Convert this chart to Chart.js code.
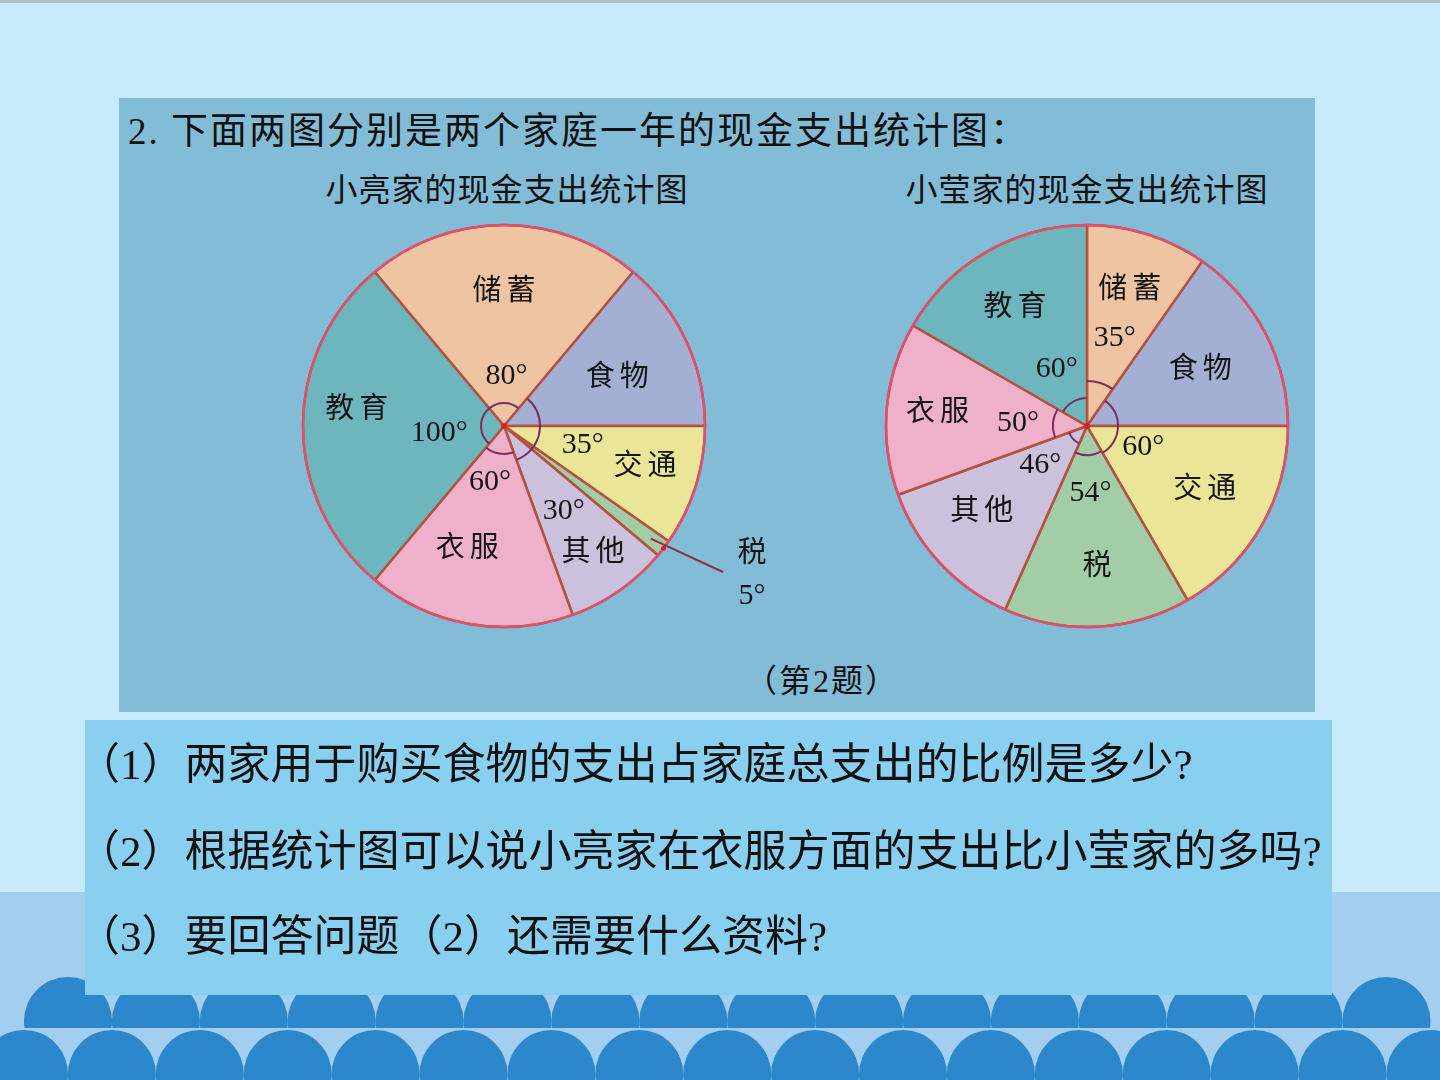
<!DOCTYPE html>
<html>
<head>
<meta charset="utf-8">
<script src="https://cdn.jsdelivr.net/npm/chart.js@4.4.0/dist/chart.umd.min.js"></script>
<style>
html, body { margin: 0; padding: 0; }
body {
    width: 1440px; height: 1080px; position: relative; overflow: hidden;
    background: #C6E9FB;
    font-family: "Liberation Serif", "Noto Sans CJK SC", serif;
    color: #111;
}
.abs { position: absolute; white-space: nowrap; }
#topline { left: 0; top: 0; width: 1440px; height: 3px; background: #B3BFC8; }
#band { left: 0; top: 892px; width: 1440px; height: 188px; background: #A4CEEF; }
#deco { left: 0; top: 0; }
#panel { left: 119px; top: 98px; width: 1196px; height: 614px; background: #83BCD6; }
#qbox { left: 85px; top: 720px; width: 1247px; height: 275px; background: #89CFF0; }
#title { left: 128px; top: 107px; font-size: 37px; line-height: 50px; letter-spacing: 2px; }
.sub { top: 168px; width: 420px; text-align: center; font-size: 32px; line-height: 44px; letter-spacing: 1px; }
#note { left: 722px; top: 661px; width: 200px; text-align: center; font-size: 32px; line-height: 40px; letter-spacing: 2px; }
.q { left: 77px; font-size: 43px; line-height: 56px; }
#liangBox { left: 204px; top: 196px; width: 600px; height: 460px; }
#yingBox { left: 857px; top: 196px; width: 460px; height: 460px; }
</style>
</head>
<body>
<div class="abs" id="topline"></div>
<div class="abs" id="band"></div>
<canvas class="abs" id="deco" width="1440" height="1080"></canvas>
<div class="abs" id="panel"></div>
<div class="abs" id="qbox"></div>

<div class="abs" id="title">2. 下面两图分别是两个家庭一年的现金支出统计图：</div>
<div class="abs sub" style="left:297px">小亮家的现金支出统计图</div>
<div class="abs sub" style="left:877px">小莹家的现金支出统计图</div>
<div class="abs" id="note">（第2题）</div>

<div class="abs q" style="top:737px">（1）两家用于购买食物的支出占家庭总支出的比例是多少?</div>
<div class="abs q" style="top:824px">（2）根据统计图可以说小亮家在衣服方面的支出比小莹家的多吗?</div>
<div class="abs q" style="top:909px">（3）要回答问题（2）还需要什么资料?</div>

<div class="abs" id="liangBox"><canvas id="liangChart"></canvas></div>
<div class="abs" id="yingBox"><canvas id="yingChart"></canvas></div>

<script>
// angles in degrees
const categories = ['储蓄', '食物', '交通', '税', '其他', '衣服', '教育'];
const liangValues = [80, 50, 35, 5, 30, 60, 100];
const yingValues = [35, 55, 60, 54, 46, 50, 60];
const sliceColors = ['#EEC4A3', '#A4AFD4', '#EBE697', '#A3CDA6', '#CBC1DD', '#EEB1C9', '#6DB6BE'];

// label placement: [distance, angle offset from slice middle (deg)], null = no label
const liangLayout = {
    name: [[134, 0], [123, 2], [147, -1], null, [155, 0], [129, 6.6], [148, 6]],
    value: [[50, 3], null, [81, -4], null, [104, 0], [58, 4], [65, -6]],
    mark: [23, 36, 36, 36, 36, 28, 23],
    ext: { index: 3, from: 185, to: [219, 146], name: [248, 128], value: [248, 170] }
};
const yingLayout = {
    name: [[142, 0], [126, 1.5], [134, -1.5], [142, -1], [136, 3.7], [150, 0], [138, -1.4]],
    value: [[92, 0], null, [60, -9.5], [67, 0], [61, 3], [69, -2.5], [64, 1.8]],
    mark: [45, 31, 31, 29, 19, 34, 28],
    ext: null
};

const CJK = '"Liberation Serif", "Noto Sans CJK SC", serif';

function spacedText(ctx, text, x, y, gap) {
    const chars = Array.from(text);
    const widths = chars.map(c => ctx.measureText(c).width);
    const total = widths.reduce((a, b) => a + b, 0) + gap * (chars.length - 1);
    let px = x - total / 2;
    ctx.textAlign = 'left';
    chars.forEach((c, k) => {
        ctx.fillText(c, px, y);
        px += widths[k] + gap;
    });
}

const pieLabels = {
    id: 'pieLabels',
    afterDatasetsDraw(chart, args, opts) {
        const ctx = chart.ctx;
        const meta = chart.getDatasetMeta(0);
        const vals = chart.data.datasets[0].data;
        const lay = opts.layout;
        const cx = meta.data[0].x, cy = meta.data[0].y, R = meta.data[0].outerRadius;
        const rad = Math.PI / 180;
        ctx.save();

        // rim
        ctx.beginPath();
        ctx.arc(cx, cy, R, 0, Math.PI * 2);
        ctx.strokeStyle = '#E0506C';
        ctx.lineWidth = 2.5;
        ctx.stroke();

        // angle marks
        ctx.strokeStyle = '#7A2F5E';
        ctx.lineWidth = 2;
        meta.data.forEach((arc, i) => {
            if (!lay.mark[i]) return;
            ctx.beginPath();
            ctx.arc(cx, cy, lay.mark[i], arc.startAngle, arc.endAngle);
            ctx.stroke();
        });

        ctx.fillStyle = '#151515';
        ctx.textBaseline = 'middle';
        meta.data.forEach((arc, i) => {
            const mid = (arc.startAngle + arc.endAngle) / 2;
            const n = lay.name[i];
            if (n) {
                const a = mid + n[1] * rad;
                ctx.font = '29px ' + CJK;
                spacedText(ctx, categories[i], cx + n[0] * Math.cos(a), cy + n[0] * Math.sin(a), 5);
            }
            const v = lay.value[i];
            if (v) {
                const a = mid + v[1] * rad;
                ctx.font = '30px ' + CJK;
                ctx.textAlign = 'center';
                ctx.fillText(vals[i] + '°', cx + v[0] * Math.cos(a), cy + v[0] * Math.sin(a));
            }
        });

        // outside label with leader line
        const ext = lay.ext;
        if (ext) {
            const arc = meta.data[ext.index];
            const mid = (arc.startAngle + arc.endAngle) / 2;
            ctx.beginPath();
            ctx.moveTo(cx + ext.from * Math.cos(mid), cy + ext.from * Math.sin(mid));
            ctx.lineTo(cx + ext.to[0], cy + ext.to[1]);
            ctx.strokeStyle = '#8A3048';
            ctx.lineWidth = 2;
            ctx.stroke();
            ctx.beginPath();
            ctx.arc(cx + R * Math.cos(mid), cy + R * Math.sin(mid), 2.5, 0, Math.PI * 2);
            ctx.fillStyle = '#E0202A';
            ctx.fill();
            ctx.fillStyle = '#151515';
            ctx.font = '29px ' + CJK;
            ctx.textAlign = 'center';
            ctx.fillText(categories[ext.index], cx + ext.name[0], cy + ext.name[1]);
            ctx.font = '30px ' + CJK;
            ctx.fillText(vals[ext.index] + '°', cx + ext.value[0], cy + ext.value[1]);
        }

        // centre dot
        ctx.beginPath();
        ctx.arc(cx, cy, 3, 0, Math.PI * 2);
        ctx.fillStyle = '#E02020';
        ctx.fill();
        ctx.restore();
    }
};

function makePie(id, values, rotation, layout) {
    return new Chart(document.getElementById(id), {
        type: 'pie',
        data: {
            labels: categories,
            datasets: [{
                data: values,
                backgroundColor: sliceColors,
                borderColor: '#B4513F',
                borderWidth: 2.5
            }]
        },
        options: {
            responsive: true,
            maintainAspectRatio: false,
            animation: false,
            events: [],
            rotation: rotation,
            radius: 201,
            layout: { padding: 0 },
            plugins: {
                legend: { display: false },
                tooltip: { enabled: false },
                pieLabels: { layout: layout }
            }
        },
        plugins: [pieLabels]
    });
}

makePie('liangChart', liangValues, 320, liangLayout);
makePie('yingChart', yingValues, 0, yingLayout);

// scalloped waves along the bottom of the slide
const deco = document.getElementById('deco').getContext('2d');
deco.fillStyle = '#2C88CB';
deco.save();
deco.beginPath();
deco.rect(0, 0, 1440, 1028);
deco.clip();
for (let k = 0; k < 16; k++) {
    deco.beginPath();
    deco.arc(68 + 87.9 * k, 1021, 44, 0, Math.PI * 2);
    deco.fill();
}
deco.restore();
for (let k = 0; k < 17; k++) {
    deco.beginPath();
    deco.arc(24 + 87.9 * k, 1074, 44, 0, Math.PI * 2);
    deco.fill();
}
</script>
</body>
</html>
